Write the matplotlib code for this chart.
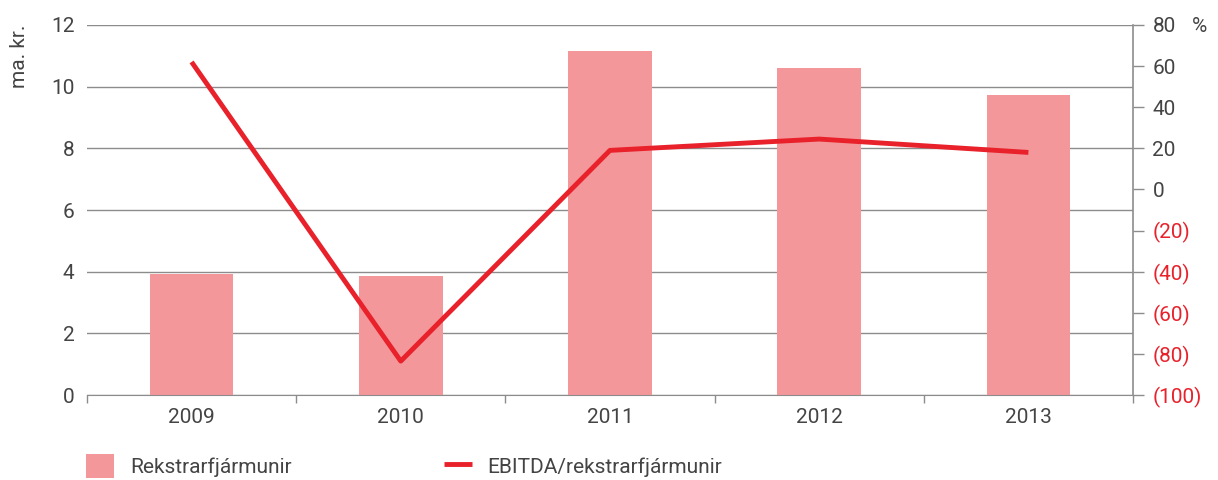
import matplotlib.pyplot as plt
from matplotlib.ticker import FixedLocator

years = ['2009', '2010', '2011', '2012', '2013']
fixed_assets = [3.93, 3.87, 11.15, 10.6, 9.72]       # ma. kr.
ebitda_ratio = [62, -83.5, 19, 24.5, 18]              # %
left_ticks = [0, 2, 4, 6, 8, 10, 12]
right_ticks = [-100, -80, -60, -40, -20, 0, 20, 40, 60, 80]

bar_col = '#f4979a'
line_col = '#e8212b'
txt_col = '#444444'
grid_col = '#8c8c8c'

plt.rcParams['font.family'] = ['Roboto', 'DejaVu Sans']
fs = 15

fig = plt.figure(figsize=(12.18, 4.8), dpi=100)
ax = fig.add_axes([0.0714, 0.177, 0.8588, 0.771])
ax2 = ax.twinx()

x = range(len(years))
ax.set_axisbelow(True)
ax.yaxis.grid(True, color=grid_col, linewidth=1.0)
bars = ax.bar(x, fixed_assets, width=0.4, color=bar_col, label='Rekstrarfjármunir', zorder=2)
ax.set_xlim(-0.5, len(years) - 0.5)
ax.set_ylim(0, 12)
ax.set_yticks(left_ticks)
ax.set_xticks(list(x))
ax.set_xticklabels(years)
ax.xaxis.set_minor_locator(FixedLocator([i - 0.5 for i in range(len(years) + 1)]))
ax.tick_params(axis='x', which='major', length=0, pad=9, labelsize=fs, labelcolor=txt_col)
ax.tick_params(axis='x', which='minor', length=6, width=1, color=grid_col)
ax.tick_params(axis='y', length=0, pad=9, labelsize=fs, labelcolor=txt_col)
for s in ['top', 'left', 'right']:
    ax.spines[s].set_visible(False)
ax.spines['bottom'].set_color(grid_col)

line, = ax2.plot(x, ebitda_ratio, color=line_col, linewidth=3.5, label='EBITDA/rekstrarfjármunir',
                 solid_capstyle='butt', zorder=5)
ax2.set_ylim(-100, 80)
ax2.set_yticks(right_ticks)
ax2.set_yticklabels([f'({-v})' if v < 0 else str(v) for v in right_ticks])
for lab, v in zip(ax2.get_yticklabels(), right_ticks):
    lab.set_color(line_col if v < 0 else txt_col)
ax2.tick_params(axis='y', length=8, width=1, color=grid_col, pad=6, labelsize=fs)
for s in ['top', 'left', 'bottom']:
    ax2.spines[s].set_visible(False)
ax2.spines['right'].set_color(grid_col)
ax2.spines['right'].set_linewidth(1.2)

fig.text(0.016, 0.948, 'ma. kr.', rotation=90, ha='center', va='top', fontsize=fs, color=txt_col)
fig.text(0.991, 0.945, '%', ha='right', va='center', fontsize=fs, color=txt_col)

fig.legend(handles=[bars, line], loc='center left', bbox_to_anchor=(0.064, 0.029), ncol=2,
           frameon=False, fontsize=fs, handlelength=1.35, handleheight=1.35, handletextpad=0.75,
           columnspacing=7.3, labelcolor=txt_col, borderaxespad=0)

fig.savefig('out.png', dpi=100)
